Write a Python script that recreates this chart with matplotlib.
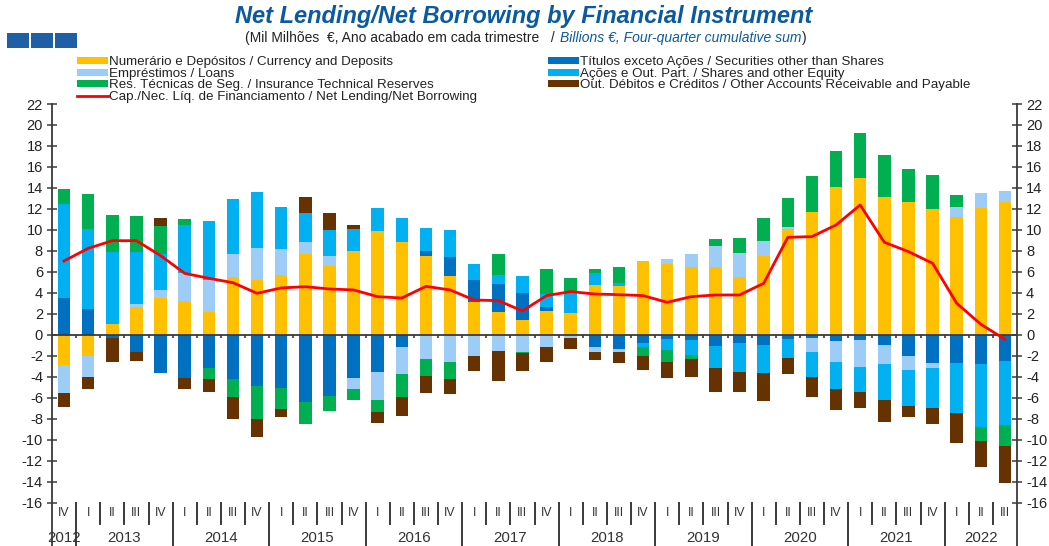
import numpy as np
import matplotlib
matplotlib.use('Agg')
import matplotlib.pyplot as plt
from matplotlib.patches import Rectangle, Patch

plt.rcParams['font.family'] = ['Liberation Sans', 'DejaVu Sans']
plt.rcParams['axes.unicode_minus'] = False

# ---------------- data ----------------
quarters = ['IV'] + ['I', 'II', 'III', 'IV'] * 9 + ['I', 'II', 'III']
year_of_bar = ['2012'] + [str(y) for y in range(2013, 2022) for _ in range(4)] + ['2022'] * 3

currency = [-2.85, -2.05, 1.05, 2.67, 3.56, 3.27, 2.22, 5.49, 5.24, 5.71,
            7.71, 6.60, 8.03, 9.90, 8.83, 7.49, 5.62, 3.11, 2.16, 1.43,
            2.29, 2.06, 4.76, 4.67, 7.08, 6.79, 6.44, 6.44, 5.56, 7.52,
            10.13, 11.75, 14.10, 14.98, 13.11, 12.70, 12.00, 11.24, 12.13, 12.70]
securities = [3.55, 2.50, -0.25, -1.65, -3.59, -4.06, -3.17, -4.22, -4.83, -5.08,
              -6.35, -5.81, -4.13, -3.49, -1.11, 0.48, 1.84, 2.16, 2.67, 2.60,
              0.38, 0.00, -1.11, -1.37, -0.79, -0.38, -0.48, -1.05, -0.73, -0.92,
              -0.38, -0.32, -0.57, -0.48, -0.95, -1.97, -2.70, -2.63, -2.79, -2.51]
loans = [-2.70, -2.00, 0.00, 0.25, 0.69, 2.60, 2.99, 2.22, 3.05, 2.45,
         1.12, 0.96, -1.01, -2.70, -2.64, -2.32, -2.54, -2.00, -1.52, -1.65,
         -1.11, -0.30, -0.54, -0.22, 0.00, 0.42, 1.24, 2.07, 2.25, 1.43,
         0.19, -1.33, -1.97, -2.54, -1.78, -1.36, -0.41, 0.98, 1.43, 1.05]
shares = [8.90, 7.60, 6.85, 5.02, 3.43, 4.64, 5.62, 5.21, 5.36, 4.06,
          2.79, 2.41, 2.03, 2.23, 2.34, 2.22, 2.51, 1.46, 0.88, 1.62,
          1.23, 1.91, 1.18, 0.31, -0.38, -1.05, -1.42, -2.12, -2.76, -2.67,
          -1.78, -2.38, -2.60, -2.41, -3.49, -3.40, -3.87, -4.83, -6.00, -6.06]
insurance = [1.50, 3.35, 3.56, 3.43, 2.70, 0.54, -0.99, -1.65, -3.14, -2.00,
             -2.16, -1.40, -1.05, -1.14, -2.12, -1.55, -1.68, 0.00, 1.97, -0.10,
             2.39, 1.46, 0.35, 1.53, -0.83, -1.11, -0.42, 0.63, 1.40, 2.19,
             2.70, 3.39, 3.46, 4.29, 4.00, 3.08, 3.24, 1.15, -1.31, -1.97]
other = [-1.35, -1.10, -2.30, -0.83, 0.76, -1.08, -1.27, -2.13, -1.71, -0.73,
         1.49, 1.68, 0.38, -1.05, -1.81, -1.65, -1.43, -1.40, -2.86, -1.65,
         -1.49, -1.07, -0.73, -1.11, -1.33, -1.52, -1.71, -2.29, -1.97, -2.70,
         -1.59, -1.84, -2.00, -1.49, -2.07, -1.05, -1.50, -2.86, -2.44, -3.59]
net_lending = [7.05, 8.25, 8.98, 8.98, 7.56, 5.87, 5.40, 4.98, 3.97, 4.48,
               4.60, 4.38, 4.29, 3.65, 3.52, 4.63, 4.29, 3.33, 3.27, 2.29,
               3.75, 4.13, 3.90, 3.84, 3.75, 3.11, 3.65, 3.81, 3.81, 4.92,
               9.30, 9.37, 10.48, 12.38, 8.83, 7.94, 6.83, 3.02, 1.02, -0.41]

labels = ['Numerário e Depósitos / Currency and Deposits',
          'Títulos exceto Ações / Securities other than Shares',
          'Empréstimos / Loans',
          'Ações e Out. Part. / Shares and other Equity',
          'Res. Técnicas de Seg. / Insurance Technical Reserves',
          'Out. Débitos e Créditos / Other Accounts Receivable and Payable']
line_label = 'Cap./Nec. Líq. de Financiamento / Net Lending/Net Borrowing'
colors = ['#FFC000', '#0070C0', '#9DCCF7', '#00B0F0', '#00B050', '#663300']
axis_col = '#3A3A3A'

# ---------------- figure ----------------
fig = plt.figure(figsize=(10.49, 5.46), dpi=100)
ax = fig.add_axes([52 / 1049, 0.0, (1017 - 52) / 1049, 1 - 104 / 546])

n = len(quarters)
x = np.arange(n)
pos_b = np.zeros(n)
neg_b = np.zeros(n)
series = [currency, securities, loans, shares, insurance, other]
handles = []
for vals, col, lab in zip(series, colors, labels):
    v = np.array(vals, dtype=float)
    bottom = np.where(v >= 0, pos_b, neg_b)
    ax.bar(x, v, 0.52, bottom=bottom, color=col, zorder=2, linewidth=0)
    pos_b += np.clip(v, 0, None)
    neg_b += np.clip(v, None, 0)
    handles.append(Patch(facecolor=col, label=lab))

ax.axhline(0, color=axis_col, lw=1.3, zorder=3)
ax.vlines(x[:-1] + 0.5, -0.28, 0, color=axis_col, lw=1.2, zorder=3)
line_h, = ax.plot(x, net_lending, color='#FF0000', lw=2.0, zorder=4, label=line_label)

ymin, ymax = -20.1, 22
ax.set_xlim(-0.5, n - 0.5)
ax.set_ylim(ymin, ymax)
ax.set_yticks(np.arange(-16, 23, 2))
ax.tick_params(axis='y', direction='inout', length=7, width=1.1, color=axis_col,
               labelsize=10.5, labelcolor='#222222', left=True, right=True,
               labelleft=True, labelright=True, pad=3)
ax.set_xticks([])
for s in ['top', 'bottom']:
    ax.spines[s].set_visible(False)
for s in ['left', 'right']:
    ax.spines[s].set_color(axis_col)
    ax.spines[s].set_linewidth(1.3)

# category axis (quarters and years)
for i, q in enumerate(quarters):
    ax.text(i, -16.95, q, ha='center', va='center', fontsize=8.8, color='#333333')
for i in range(n - 1):
    new_year = year_of_bar[i] != year_of_bar[i + 1]
    ax.plot([i + 0.5, i + 0.5], [-16.0, ymin if new_year else -18.0],
            color=axis_col, lw=1.4, clip_on=False, zorder=3)
uniq_years = list(dict.fromkeys(year_of_bar))
for yr in uniq_years:
    idx = [i for i, v in enumerate(year_of_bar) if v == yr]
    ax.text(np.mean(idx), -19.3, yr, ha='center', va='center', fontsize=10.8, color='#333333')

# ---------------- legend ----------------
col1 = [handles[0], handles[2], handles[4], line_h]
col2 = [handles[1], handles[3], handles[5]]
leg_kw = dict(loc='upper left', frameon=False, fontsize=9.6, handlelength=2.35,
              handleheight=0.45, handletextpad=0.08, labelspacing=-0.04,
              borderpad=0, borderaxespad=0)
leg1 = fig.legend(handles=col1, bbox_to_anchor=(77 / 1049, 1 - 56.5 / 546), **leg_kw)
leg2 = fig.legend(handles=col2, bbox_to_anchor=(548 / 1049, 1 - 56.5 / 546), **leg_kw)
for lg in (leg1, leg2):
    for t in lg.get_texts():
        t.set_color('#222222')

# ---------------- titles ----------------
title_col = '#0B5A9E'
fig.text(524 / 1049, 1 - 16 / 546, 'Net Lending/Net Borrowing by Financial Instrument',
         ha='center', va='center', fontsize=17, fontweight='bold', fontstyle='italic',
         color=title_col)
fig.canvas.draw()
r = fig.canvas.get_renderer()
sub_y = 1 - 38 / 546
fig.text(555 / 1049, sub_y, '(Mil Milhões  €, Ano acabado em cada trimestre   /',
         ha='right', va='center', fontsize=10.0, color='#222222')
t2 = fig.text(560 / 1049, sub_y, 'Billions €, Four-quarter cumulative sum',
              ha='left', va='center', fontsize=10.0, fontstyle='italic', color=title_col)
bb = t2.get_window_extent(renderer=r)
fig.text(bb.x1 / fig.bbox.width + 1 / 1049, sub_y, ')', ha='left', va='center',
         fontsize=10.0, color='#222222')

# three blue squares
for x0 in (7, 31, 55):
    fig.add_artist(Rectangle((x0 / 1049, 1 - 48 / 546), 22 / 1049, 15 / 546,
                             transform=fig.transFigure, color='#1F5FA5', lw=0))

fig.savefig('out.png', dpi=100)
